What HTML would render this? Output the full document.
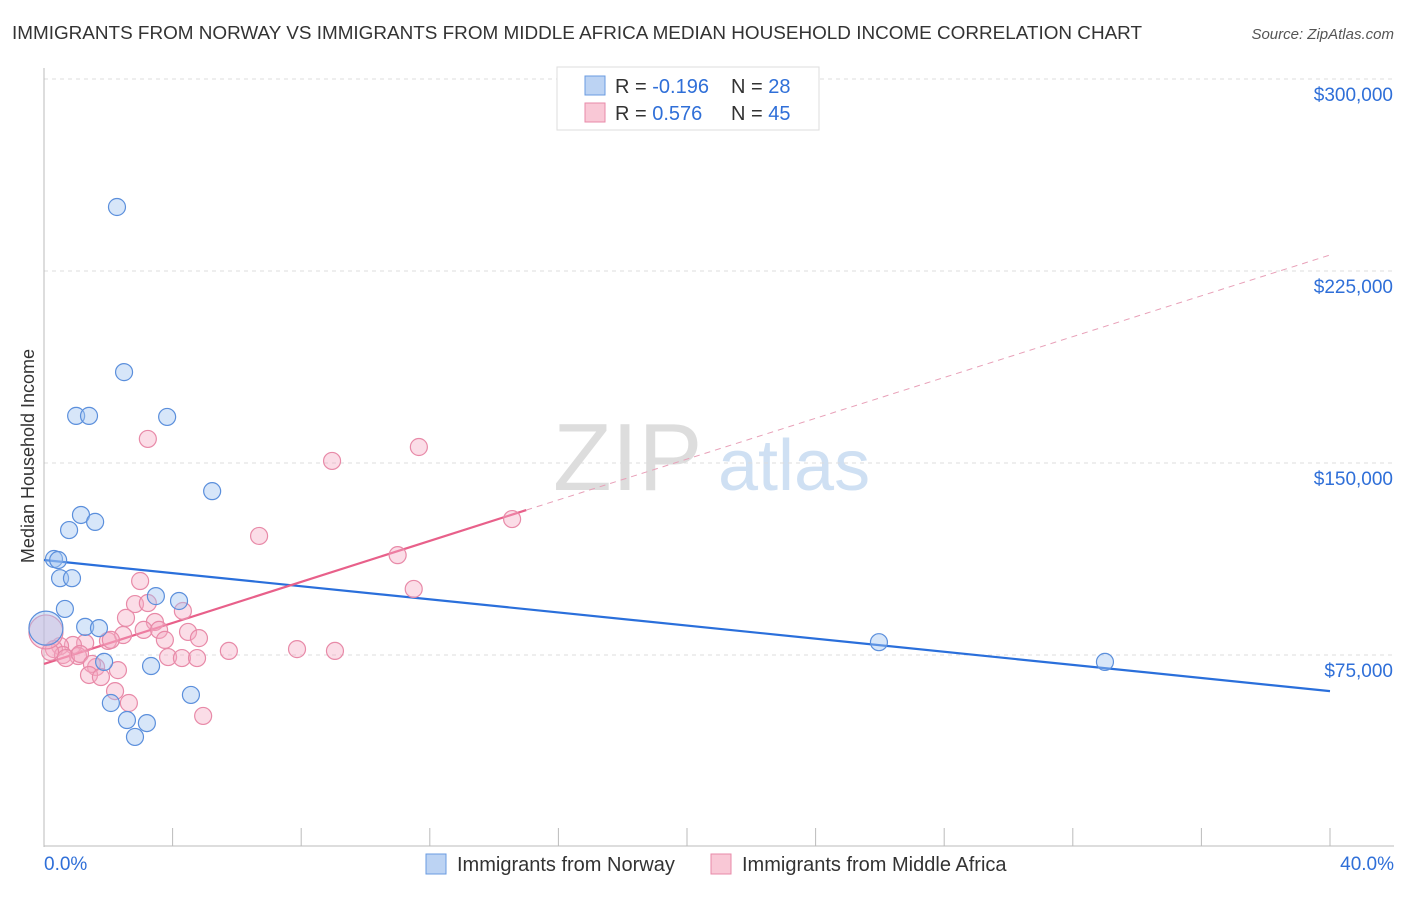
<!DOCTYPE html>
<html><head><meta charset="utf-8"><style>
body{margin:0;background:#fff;font-family:"Liberation Sans",sans-serif;}
svg text{font-family:"Liberation Sans",sans-serif;}
</style></head><body>
<svg id="chart" width="1406" height="892">
<text x="12" y="39" font-size="18.9" fill="#333">IMMIGRANTS FROM NORWAY VS IMMIGRANTS FROM MIDDLE AFRICA MEDIAN HOUSEHOLD INCOME CORRELATION CHART</text>
<text x="1394" y="39" font-size="15" fill="#555" font-style="italic" text-anchor="end">Source: ZipAtlas.com</text>
<text x="34" y="456" font-size="18" fill="#333" transform="rotate(-90 34 456)" text-anchor="middle">Median Household Income</text>
<g><text x="553" y="490" font-size="96" fill="#ddd" font-family="Liberation Serif,serif">ZIP</text><text x="718" y="490" font-size="72" fill="#cfe0f3">atlas</text></g>
<g id="grid"></g><g id="axes"></g><g id="lines"></g><g id="points"></g>
<g>
<rect x="557" y="67" width="262" height="63" fill="#fff" stroke="#ddd"/>
<rect x="585" y="76" width="20" height="19" fill="#bcd3f3" stroke="#6a9be0"/>
<rect x="585" y="103" width="20" height="19" fill="#f9c8d6" stroke="#e88aa8"/>
<text x="615" y="93" font-size="20" fill="#333">R = <tspan fill="#2f6fd8">-0.196</tspan></text>
<text x="731" y="93" font-size="20" fill="#333">N = <tspan fill="#2f6fd8">28</tspan></text>
<text x="615" y="120" font-size="20" fill="#333">R = <tspan fill="#2f6fd8"> 0.576</tspan></text>
<text x="731" y="120" font-size="20" fill="#333">N = <tspan fill="#2f6fd8">45</tspan></text>
</g>
<g>
<rect x="426" y="854" width="20" height="20" fill="#bcd3f3" stroke="#6a9be0"/>
<text x="457" y="871" font-size="20" fill="#333">Immigrants from Norway</text>
<rect x="711" y="854" width="20" height="20" fill="#f9c8d6" stroke="#e88aa8"/>
<text x="742" y="871" font-size="20" fill="#333">Immigrants from Middle Africa</text>
</g>
</svg>
<script>
const xTicks=[0,4,8,12,16,20,24,28,32,36,40];
const yTicks=[75000,150000,225000,300000];
const yTickLabels=["$75,000","$150,000","$225,000","$300,000"];
const norwayX=[2.27,2.49,1.0,1.4,3.83,5.23,1.15,1.59,0.78,0.31,0.44,0.5,0.87,0.65,3.48,4.2,1.28,1.71,0.06,1.87,3.33,4.57,2.08,2.58,3.2,2.83,25.97,33.0];
const norwayY=[250000,185500,168400,168400,168000,139000,129700,127000,123800,112500,112100,105000,105000,93000,98000,96100,86000,85500,85500,72300,70700,59400,56250,49600,48400,43000,80000,72300];
const africaX=[3.23,8.96,11.66,14.56,6.69,11.0,11.5,2.99,2.83,3.23,4.32,2.55,3.45,3.1,3.58,4.48,2.46,4.82,3.76,1.99,2.08,1.28,0.9,0.5,0.31,5.75,7.87,9.05,0.59,1.06,0.19,0.68,1.12,3.86,4.29,4.76,1.62,1.49,2.3,1.4,1.77,2.21,2.64,4.95,0.06];
const africaY=[159400,150800,156250,128100,121500,114000,100800,103900,94900,95300,92200,89500,87900,84800,84800,84000,82800,81600,80900,80500,80900,79700,78900,78500,77300,76600,77300,76600,75000,74600,76200,73800,75400,74200,73800,73800,70300,71500,69100,67200,66400,60900,56250,51200,84000];
const norwayTrend=[[0,112100],[40,60900]];
const africaTrend=[[0,71500],[15,131600],[40,231250]];
const X=v=>44+v/40*1286, Y=v=>847-v/75000*192;
const NS="http://www.w3.org/2000/svg";
function mk(p,t,a){const e=document.createElementNS(NS,t);for(const k in a)e.setAttribute(k,a[k]);document.getElementById(p).appendChild(e);return e;}
yTicks.forEach((v,i)=>{
 const l=mk('grid','line',{x1:44,x2:1394,y1:Y(v),y2:Y(v),stroke:'#ddd','stroke-dasharray':'4 4'});
 
 
 const t=mk('grid','text',{x:1393,y:Y(v)+22,'font-size':19,fill:'#2f6fd8','text-anchor':'end'});t.textContent=yTickLabels[i];
 
 
});
mk('axes','line',{x1:44,x2:44,y1:68,y2:847,stroke:'#bbb'});
mk('axes','line',{x1:44,x2:1394,y1:846,y2:846,stroke:'#bbb'});
xTicks.forEach(v=>{const t=mk('axes','line',{x1:X(v),x2:X(v),y1:828,y2:846,stroke:'#bbb'});
 
 });
[[0,'0.0%','start',44],[40,'40.0%','end',1394]].forEach(d=>{const t=mk('axes','text',{x:d[3],y:870,'font-size':19,fill:'#2f6fd8','text-anchor':d[2]});t.textContent=d[1];
 
 });
function pt(x,y,big,fill,stroke,name){const c=mk('points','circle',{cx:X(x),cy:Y(y),r:big?17:8.5,fill:fill,stroke:stroke,'stroke-width':1.2});
 
 }
africaX.forEach((x,i)=>pt(x,africaY[i],i===africaX.length-1,'rgba(245,170,195,0.4)','#e88aa8','point-middle-africa'));
norwayX.forEach((x,i)=>pt(x,norwayY[i],i===18,'rgba(160,195,240,0.42)','#5b8fdc','point-norway'));
let l=mk('lines','line',{x1:X(norwayTrend[0][0]),y1:Y(norwayTrend[0][1]),x2:X(norwayTrend[1][0]),y2:Y(norwayTrend[1][1]),stroke:'#2a6fdb','stroke-width':2.2});


l=mk('lines','line',{x1:X(africaTrend[0][0]),y1:Y(africaTrend[0][1]),x2:X(africaTrend[1][0]),y2:Y(africaTrend[1][1]),stroke:'#e8608a','stroke-width':2.2});


l=mk('lines','line',{x1:X(africaTrend[1][0]),y1:Y(africaTrend[1][1]),x2:X(africaTrend[2][0]),y2:Y(africaTrend[2][1]),stroke:'#e8a0b8','stroke-width':1,'stroke-dasharray':'6 5'});


</script>
</body></html>
